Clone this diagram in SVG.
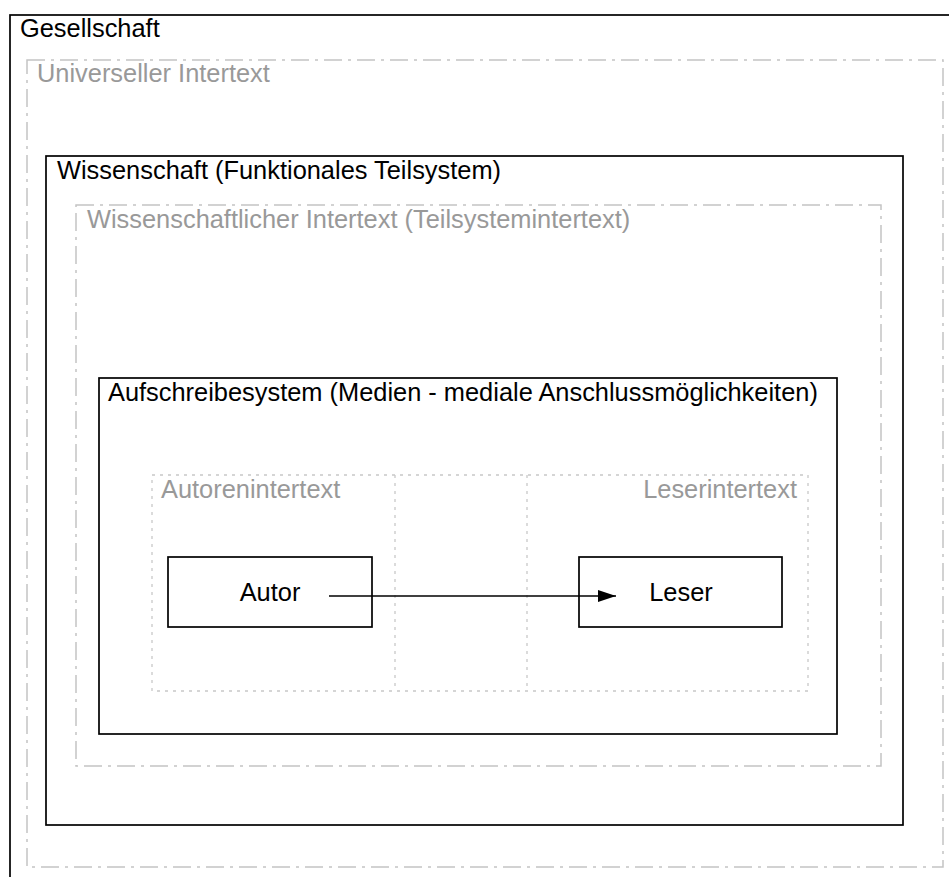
<svg xmlns="http://www.w3.org/2000/svg" width="949" height="877" viewBox="0 0 949 877">
<style>
  .solid { fill: none; stroke: #000; stroke-width: 1.7; }
  .dashdot { fill: none; stroke: #c4c4c4; stroke-width: 1.5; stroke-dasharray: 18 6 3 6; }
  .dotted { fill: none; stroke: #c8c8c8; stroke-width: 1.3; stroke-dasharray: 3 5; }
  .lbl { font-family: "Liberation Sans", Arial, sans-serif; font-size: 25.4px; fill: #000; }
  .glbl { font-family: "Liberation Sans", Arial, sans-serif; font-size: 25.4px; fill: #999; }
  .node { fill: #fff; stroke: #000; stroke-width: 1.7; }
</style>
<defs>
  <marker id="arrowhead" viewBox="0 0 18 12" refX="18" refY="6" markerWidth="18" markerHeight="12" markerUnits="userSpaceOnUse" orient="auto">
    <path d="M0,0 L18,6 L0,12 z" fill="#000"/>
  </marker>
</defs>
<rect width="949" height="877" fill="#fff"/>

<g id="gesellschaft">
  <rect class="solid" x="10" y="15" width="1000" height="1000"/>
  <text class="lbl" x="20" y="37">Gesellschaft</text>
</g>

<g id="universeller-intertext">
  <rect class="dashdot" x="27" y="60" width="916" height="807"/>
  <text class="glbl" x="37" y="82">Universeller Intertext</text>
</g>

<g id="wissenschaft">
  <rect class="solid" x="46" y="156" width="857" height="669"/>
  <text class="lbl" x="57" y="179">Wissenschaft (Funktionales Teilsystem)</text>
</g>

<g id="wissenschaftlicher-intertext">
  <rect class="dashdot" x="76" y="205" width="805" height="561"/>
  <text class="glbl" x="87" y="228">Wissenschaftlicher Intertext (Teilsystemintertext)</text>
</g>

<g id="aufschreibesystem">
  <rect class="solid" x="99" y="378" width="738" height="356"/>
  <text class="lbl" x="108" y="401">Aufschreibesystem (Medien - mediale Anschlussmöglichkeiten)</text>
</g>

<g id="intertext-bereich">
  <rect class="dotted" x="152" y="475" width="656" height="216"/>
  <line class="dotted" x1="395" y1="475" x2="395" y2="691"/>
  <line class="dotted" x1="527" y1="475" x2="527" y2="691"/>
  <text class="glbl" x="161" y="498">Autorenintertext</text>
  <text class="glbl" x="797" y="498" text-anchor="end">Leserintertext</text>
</g>

<g id="autor">
  <rect class="node" x="168" y="557" width="204" height="70"/>
  <text class="lbl" x="270" y="601" text-anchor="middle">Autor</text>
</g>

<g id="leser">
  <rect class="node" x="579" y="557" width="203" height="70"/>
  <text class="lbl" x="681" y="601" text-anchor="middle">Leser</text>
</g>

<g id="connectors">
  <line x1="329" y1="596" x2="616" y2="596" stroke="#000" stroke-width="1.7" marker-end="url(#arrowhead)"/>
</g>
</svg>
